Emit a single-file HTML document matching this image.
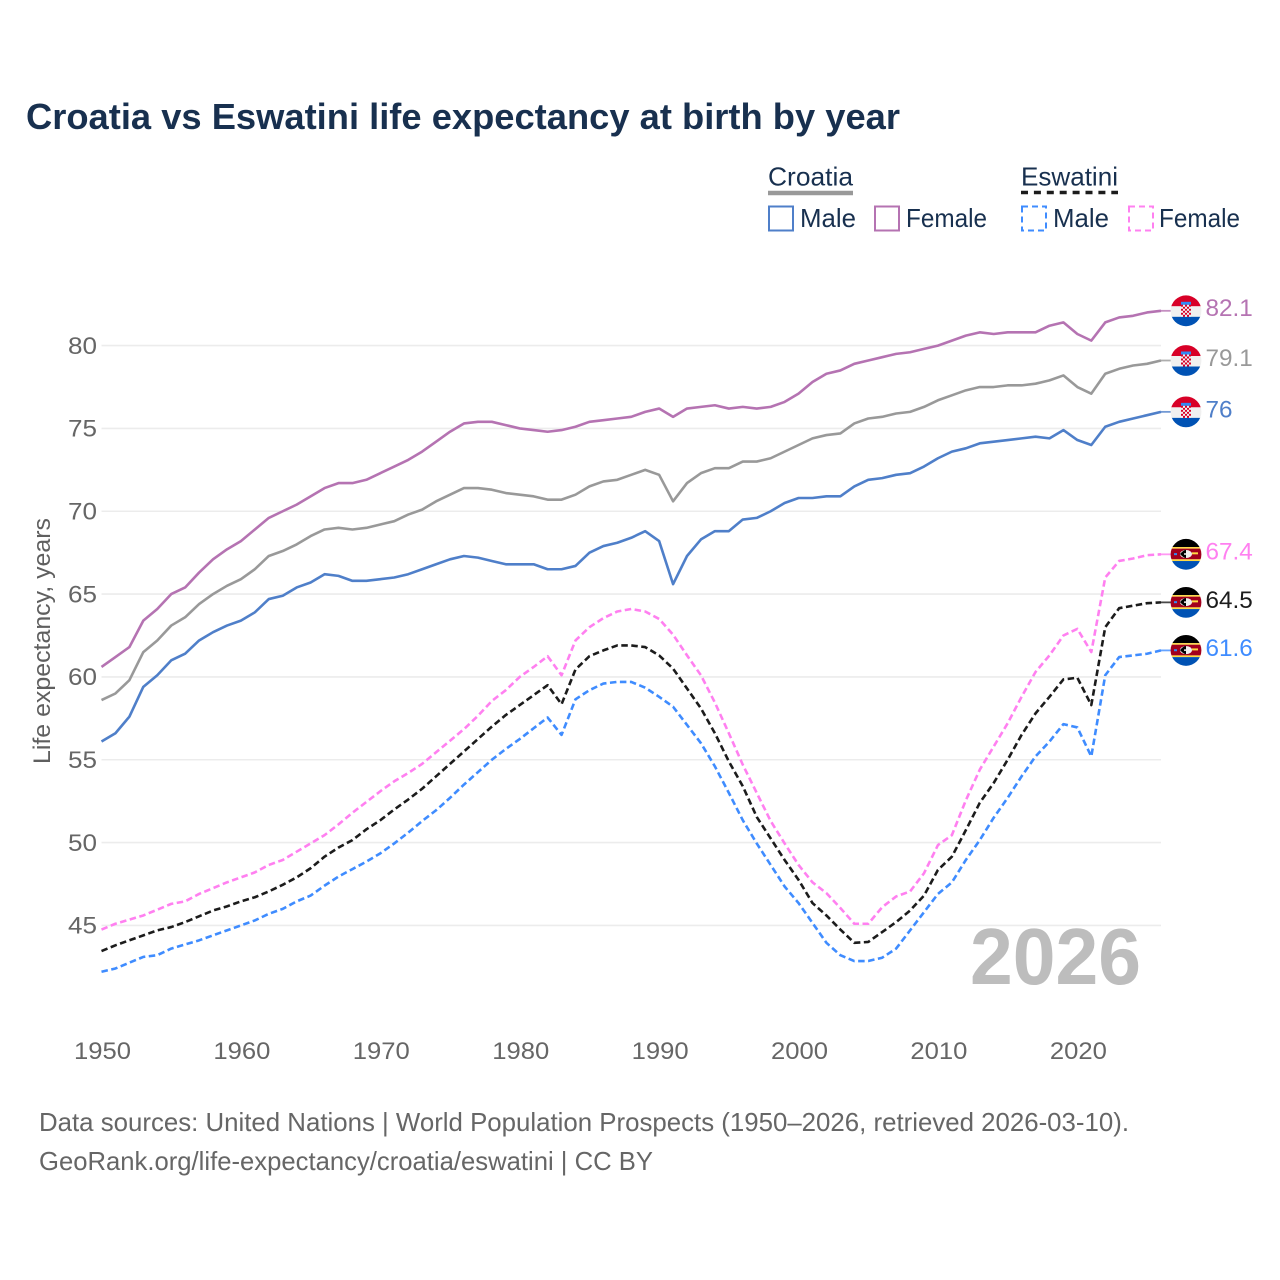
<!DOCTYPE html>
<html lang="en">
<head>
<meta charset="utf-8">
<title>Croatia vs Eswatini life expectancy at birth by year</title>
<style>
html,body{margin:0;padding:0;background:#fff;}
svg{display:block;font-family:"Liberation Sans",sans-serif;}
</style>
</head>
<body>
<svg id="chart" xmlns="http://www.w3.org/2000/svg" width="1280" height="1280" viewBox="0 0 1280 1280">
  <rect x="0" y="0" width="1280" height="1280" fill="#fff"/>
  <text x="26" y="129" font-size="36" font-weight="700" fill="#18304f" textLength="874" lengthAdjust="spacingAndGlyphs">Croatia vs Eswatini life expectancy at birth by year</text>

  <g font-size="26" fill="#18304f">
    <text x="768" y="185.5" textLength="85" lengthAdjust="spacingAndGlyphs">Croatia</text>
    <line x1="768" x2="853" y1="193" y2="193" stroke="#999" stroke-width="4.5"/>
    <text x="1021" y="185.5" textLength="97" lengthAdjust="spacingAndGlyphs">Eswatini</text>
    <line x1="1021" x2="1118" y1="192.5" y2="192.5" stroke="#1c1c1c" stroke-width="3.5" stroke-dasharray="7 5.9"/>
    <rect x="769" y="206.5" width="24" height="24" fill="none" stroke="#4f7fc9" stroke-width="2"/>
    <text x="800" y="227" textLength="56" lengthAdjust="spacingAndGlyphs">Male</text>
    <rect x="875" y="206.5" width="24" height="24" fill="none" stroke="#b573b2" stroke-width="2"/>
    <text x="906" y="227" textLength="81" lengthAdjust="spacingAndGlyphs">Female</text>
    <rect x="1022" y="206.5" width="24" height="24" fill="none" stroke="#3f8cff" stroke-width="2" stroke-dasharray="6 4"/>
    <text x="1053" y="227" textLength="56" lengthAdjust="spacingAndGlyphs">Male</text>
    <rect x="1129" y="206.5" width="24" height="24" fill="none" stroke="#ff80f0" stroke-width="2" stroke-dasharray="6 4"/>
    <text x="1159" y="227" textLength="81" lengthAdjust="spacingAndGlyphs">Female</text>
  </g>

  <g id="grid"></g>
  <g id="yticks"></g>
  <g id="xticks"></g>
  <text transform="translate(50,641) rotate(-90)" text-anchor="middle" font-size="24" fill="#5f5f5f" textLength="246" lengthAdjust="spacingAndGlyphs">Life expectancy, years</text>
  <text x="1141" y="984" text-anchor="end" font-size="80" font-weight="700" fill="#bdbdbd" textLength="171" lengthAdjust="spacingAndGlyphs">2026</text>
  <g id="series"></g>
  <g id="ends"></g>

  <g font-size="26" fill="#666">
    <text x="39" y="1131" textLength="1090" lengthAdjust="spacingAndGlyphs">Data sources: United Nations | World Population Prospects (1950–2026, retrieved 2026-03-10).</text>
    <text x="39" y="1170" textLength="614" lengthAdjust="spacingAndGlyphs">GeoRank.org/life-expectancy/croatia/eswatini | CC BY</text>
  </g>
</svg>
<script>
const startYear = 1950;
const endYear = 2026;
const yTickValues = [45, 50, 55, 60, 65, 70, 75, 80];
const xTickYears = [1950, 1960, 1970, 1980, 1990, 2000, 2010, 2020];

const croatiaFemale = [
  60.6,61.2,61.8,63.4,64.1,65.0,65.4,66.3,67.1,67.7,
  68.2,68.9,69.6,70.0,70.4,70.9,71.4,71.7,71.7,71.9,
  72.3,72.7,73.1,73.6,74.2,74.8,75.3,75.4,75.4,75.2,
  75.0,74.9,74.8,74.9,75.1,75.4,75.5,75.6,75.7,76.0,
  76.2,75.7,76.2,76.3,76.4,76.2,76.3,76.2,76.3,76.6,
  77.1,77.8,78.3,78.5,78.9,79.1,79.3,79.5,79.6,79.8,
  80.0,80.3,80.6,80.8,80.7,80.8,80.8,80.8,81.2,81.4,
  80.7,80.3,81.4,81.7,81.8,82.0,82.1];
const croatiaBoth = [
  58.6,59.0,59.8,61.5,62.2,63.1,63.6,64.4,65.0,65.5,
  65.9,66.5,67.3,67.6,68.0,68.5,68.9,69.0,68.9,69.0,
  69.2,69.4,69.8,70.1,70.6,71.0,71.4,71.4,71.3,71.1,
  71.0,70.9,70.7,70.7,71.0,71.5,71.8,71.9,72.2,72.5,
  72.2,70.6,71.7,72.3,72.6,72.6,73.0,73.0,73.2,73.6,
  74.0,74.4,74.6,74.7,75.3,75.6,75.7,75.9,76.0,76.3,
  76.7,77.0,77.3,77.5,77.5,77.6,77.6,77.7,77.9,78.2,
  77.5,77.1,78.3,78.6,78.8,78.9,79.1];
const croatiaMale = [
  56.1,56.6,57.6,59.4,60.1,61.0,61.4,62.2,62.7,63.1,
  63.4,63.9,64.7,64.9,65.4,65.7,66.2,66.1,65.8,65.8,
  65.9,66.0,66.2,66.5,66.8,67.1,67.3,67.2,67.0,66.8,
  66.8,66.8,66.5,66.5,66.7,67.5,67.9,68.1,68.4,68.8,
  68.2,65.6,67.3,68.3,68.8,68.8,69.5,69.6,70.0,70.5,
  70.8,70.8,70.9,70.9,71.5,71.9,72.0,72.2,72.3,72.7,
  73.2,73.6,73.8,74.1,74.2,74.3,74.4,74.5,74.4,74.9,
  74.3,74.0,75.1,75.4,75.6,75.8,76.0];
const eswatiniFemale = [
  44.75,45.1,45.35,45.6,45.95,46.3,46.45,46.9,47.25,47.6,
  47.9,48.2,48.65,48.95,49.45,49.95,50.45,51.1,51.8,52.45,
  53.1,53.7,54.2,54.75,55.45,56.15,56.85,57.65,58.55,59.2,
  60,60.6,61.25,60.1,62.2,63,63.55,63.95,64.1,63.95,
  63.5,62.55,61.3,60.1,58.45,56.6,54.7,53,51.3,49.95,
  48.65,47.6,46.95,46.05,45.1,45.1,46.1,46.75,47.05,48.15,
  49.85,50.45,52.55,54.4,55.8,57.2,58.8,60.3,61.3,62.5,
  62.9,61.5,66,67,67.15,67.35,67.4];
const eswatiniBoth = [
  43.45,43.8,44.1,44.4,44.7,44.9,45.2,45.55,45.9,46.15,
  46.45,46.7,47.05,47.45,47.9,48.45,49.15,49.7,50.15,50.8,
  51.35,52,52.6,53.25,54,54.75,55.5,56.25,57,57.7,
  58.3,58.9,59.5,58.35,60.45,61.25,61.6,61.9,61.9,61.8,
  61.3,60.5,59.3,58.1,56.6,54.9,53.4,51.55,50.25,48.95,
  47.75,46.35,45.6,44.75,43.95,44,44.6,45.2,45.9,46.8,
  48.35,49.15,50.75,52.4,53.6,55,56.5,57.8,58.8,59.85,
  59.95,58.3,63,64.15,64.3,64.45,64.5];
const eswatiniMale = [
  42.2,42.4,42.75,43.1,43.2,43.6,43.85,44.1,44.4,44.7,
  45,45.3,45.7,46,46.45,46.8,47.4,47.95,48.4,48.85,
  49.35,49.95,50.6,51.3,51.95,52.7,53.5,54.25,55,55.65,
  56.25,56.9,57.55,56.5,58.65,59.2,59.6,59.7,59.7,59.35,
  58.8,58.2,57.1,56,54.6,53,51.35,49.95,48.65,47.35,
  46.35,45.15,43.95,43.2,42.85,42.85,43.05,43.6,44.7,45.8,
  46.9,47.6,48.95,50.15,51.5,52.7,54,55.2,56.1,57.15,
  56.95,55.2,60.1,61.2,61.3,61.4,61.6];

const endLabels = ["82.1", "79.1", "76", "67.4", "64.5", "61.6"];

const NS = 'http://www.w3.org/2000/svg';
function x(year) { return 101.5 + (year - startYear) * (1059.5 / (endYear - startYear)); }
function y(value) { return 345.6 + (80 - value) * 16.566; }
function make(tag, attrs, parent) {
  const el = document.createElementNS(NS, tag);
  for (const k in attrs) el.setAttribute(k, attrs[k]);
  parent.appendChild(el);
  return el;
}

const gridG = document.getElementById('grid');
const yG = document.getElementById('yticks');
const xG = document.getElementById('xticks');
const seriesG = document.getElementById('series');
const endsG = document.getElementById('ends');

yTickValues.forEach(function (v) {
  const g = make('line', {x1: x(startYear), x2: x(endYear), y1: y(v), y2: y(v), stroke: '#ececec', 'stroke-width': 1.6}, gridG);
  
  
  const t = make('text', {x: 97, y: y(v) + 8.2, 'text-anchor': 'end', 'font-size': 24, fill: '#666', textLength: 29, lengthAdjust: 'spacingAndGlyphs'}, yG);
  t.textContent = v;
  
  
});

xTickYears.forEach(function (yr) {
  const t = make('text', {x: x(yr) + 1, y: 1059, 'text-anchor': 'middle', 'font-size': 24, fill: '#666', textLength: 57, lengthAdjust: 'spacingAndGlyphs'}, xG);
  t.textContent = yr;
  
  
});

function drawSeries(name, values, color, dash) {
  const pts = values.map(function (v, i) { return x(startYear + i).toFixed(2) + ',' + y(v).toFixed(2); }).join(' ');
  const attrs = {points: pts, fill: 'none', stroke: color, 'stroke-width': 2.6, 'stroke-linejoin': 'round'};
  if (dash) attrs['stroke-dasharray'] = '6.5 3.5';
  const line = make('polyline', attrs, seriesG);
  
  
}

function drawCroatiaFlag(g, cx, cy, clipId) {
  const clip = make('clipPath', {id: clipId}, g);
  make('circle', {cx: cx, cy: cy, r: 15.4}, clip);
  const f = make('g', {'clip-path': 'url(#' + clipId + ')'}, g);
  make('rect', {x: cx - 16, y: cy - 16, width: 32, height: 11.5, fill: '#d80027'}, f);
  make('rect', {x: cx - 16, y: cy - 4.5, width: 32, height: 10.5, fill: '#f0f0f0'}, f);
  make('rect', {x: cx - 16, y: cy + 6, width: 32, height: 10, fill: '#0052b4'}, f);
  make('rect', {x: cx - 5, y: cy - 9, width: 10, height: 3, fill: '#338af3'}, f);
  for (let r = 0; r < 6; r++) {
    for (let c = 0; c < 5; c++) {
      make('rect', {x: cx - 5 + c * 2, y: cy - 6 + r * 2, width: 2, height: 2, fill: (r + c) % 2 ? '#f0f0f0' : '#d80027'}, f);
    }
  }
}

function drawEswatiniFlag(g, cx, cy, clipId) {
  const clip = make('clipPath', {id: clipId}, g);
  make('circle', {cx: cx, cy: cy, r: 15.4}, clip);
  const f = make('g', {'clip-path': 'url(#' + clipId + ')'}, g);
  make('rect', {x: cx - 16, y: cy - 16, width: 32, height: 8.7, fill: '#000'}, f);
  make('rect', {x: cx - 16, y: cy - 7.3, width: 32, height: 1.6, fill: '#ffda44'}, f);
  make('rect', {x: cx - 16, y: cy - 5.7, width: 32, height: 10.7, fill: '#a2001d'}, f);
  make('rect', {x: cx - 16, y: cy + 5, width: 32, height: 1.7, fill: '#ffda44'}, f);
  make('rect', {x: cx - 16, y: cy + 6.7, width: 32, height: 9.3, fill: '#0052b4'}, f);
  make('rect', {x: cx - 12, y: cy - 1.2, width: 3, height: 2, fill: '#338af3'}, f);
  make('rect', {x: cx + 6, y: cy - 2, width: 6, height: 2, fill: '#ffda44'}, f);
  make('ellipse', {cx: cx, cy: cy - 0.3, rx: 6, ry: 4, fill: '#f0f0f0'}, f);
  make('path', {d: 'M' + (cx - 6) + ' ' + (cy - 0.3) + 'Q' + (cx - 2) + ' ' + (cy - 5) + ' ' + cx + ' ' + (cy - 4.3) + 'V' + (cy + 3.7) + 'Q' + (cx - 2) + ' ' + (cy + 4) + ' ' + (cx - 6) + ' ' + (cy - 0.3) + 'Z', fill: '#000'}, f);
  make('circle', {cx: cx - 1, cy: cy - 0.3, r: 1, fill: '#f0f0f0'}, f);
}

function drawEnd(name, values, color, dash, label, country, idx) {
  const last = values[values.length - 1];
  const ey = y(last);
  const cattrs = {x1: x(endYear), x2: 1172, y1: ey, y2: ey, stroke: color, 'stroke-width': 1.8, 'stroke-opacity': 0.8};
  const conn = make('line', cattrs, endsG);
  
  
  const flag = make('g', {}, endsG);
  
  
  if (country === 'croatia') drawCroatiaFlag(flag, 1186, ey, 'flag-clip-' + idx);
  else drawEswatiniFlag(flag, 1186, ey, 'flag-clip-' + idx);
  const t = make('text', {x: 1205.5, y: ey + 5.4, 'font-size': 24.3, fill: color}, endsG);
  t.textContent = label;
  
  
}

const C_FEMALE = '#b573b2', C_BOTH = '#999999', C_MALE = '#4f7fc9';
const E_FEMALE = '#ff80f0', E_BOTH = '#1c1c1c', E_MALE = '#3f8cff';

drawSeries('croatia-female', croatiaFemale, C_FEMALE, false);
drawSeries('croatia-both', croatiaBoth, C_BOTH, false);
drawSeries('croatia-male', croatiaMale, C_MALE, false);
drawSeries('eswatini-female', eswatiniFemale, E_FEMALE, true);
drawSeries('eswatini-both', eswatiniBoth, E_BOTH, true);
drawSeries('eswatini-male', eswatiniMale, E_MALE, true);

drawEnd('croatia-female', croatiaFemale, C_FEMALE, false, endLabels[0], 'croatia', 0);
drawEnd('croatia-both', croatiaBoth, C_BOTH, false, endLabels[1], 'croatia', 1);
drawEnd('croatia-male', croatiaMale, C_MALE, false, endLabels[2], 'croatia', 2);
drawEnd('eswatini-female', eswatiniFemale, E_FEMALE, true, endLabels[3], 'eswatini', 3);
drawEnd('eswatini-both', eswatiniBoth, E_BOTH, true, endLabels[4], 'eswatini', 4);
drawEnd('eswatini-male', eswatiniMale, E_MALE, true, endLabels[5], 'eswatini', 5);
</script>
</body>
</html>
